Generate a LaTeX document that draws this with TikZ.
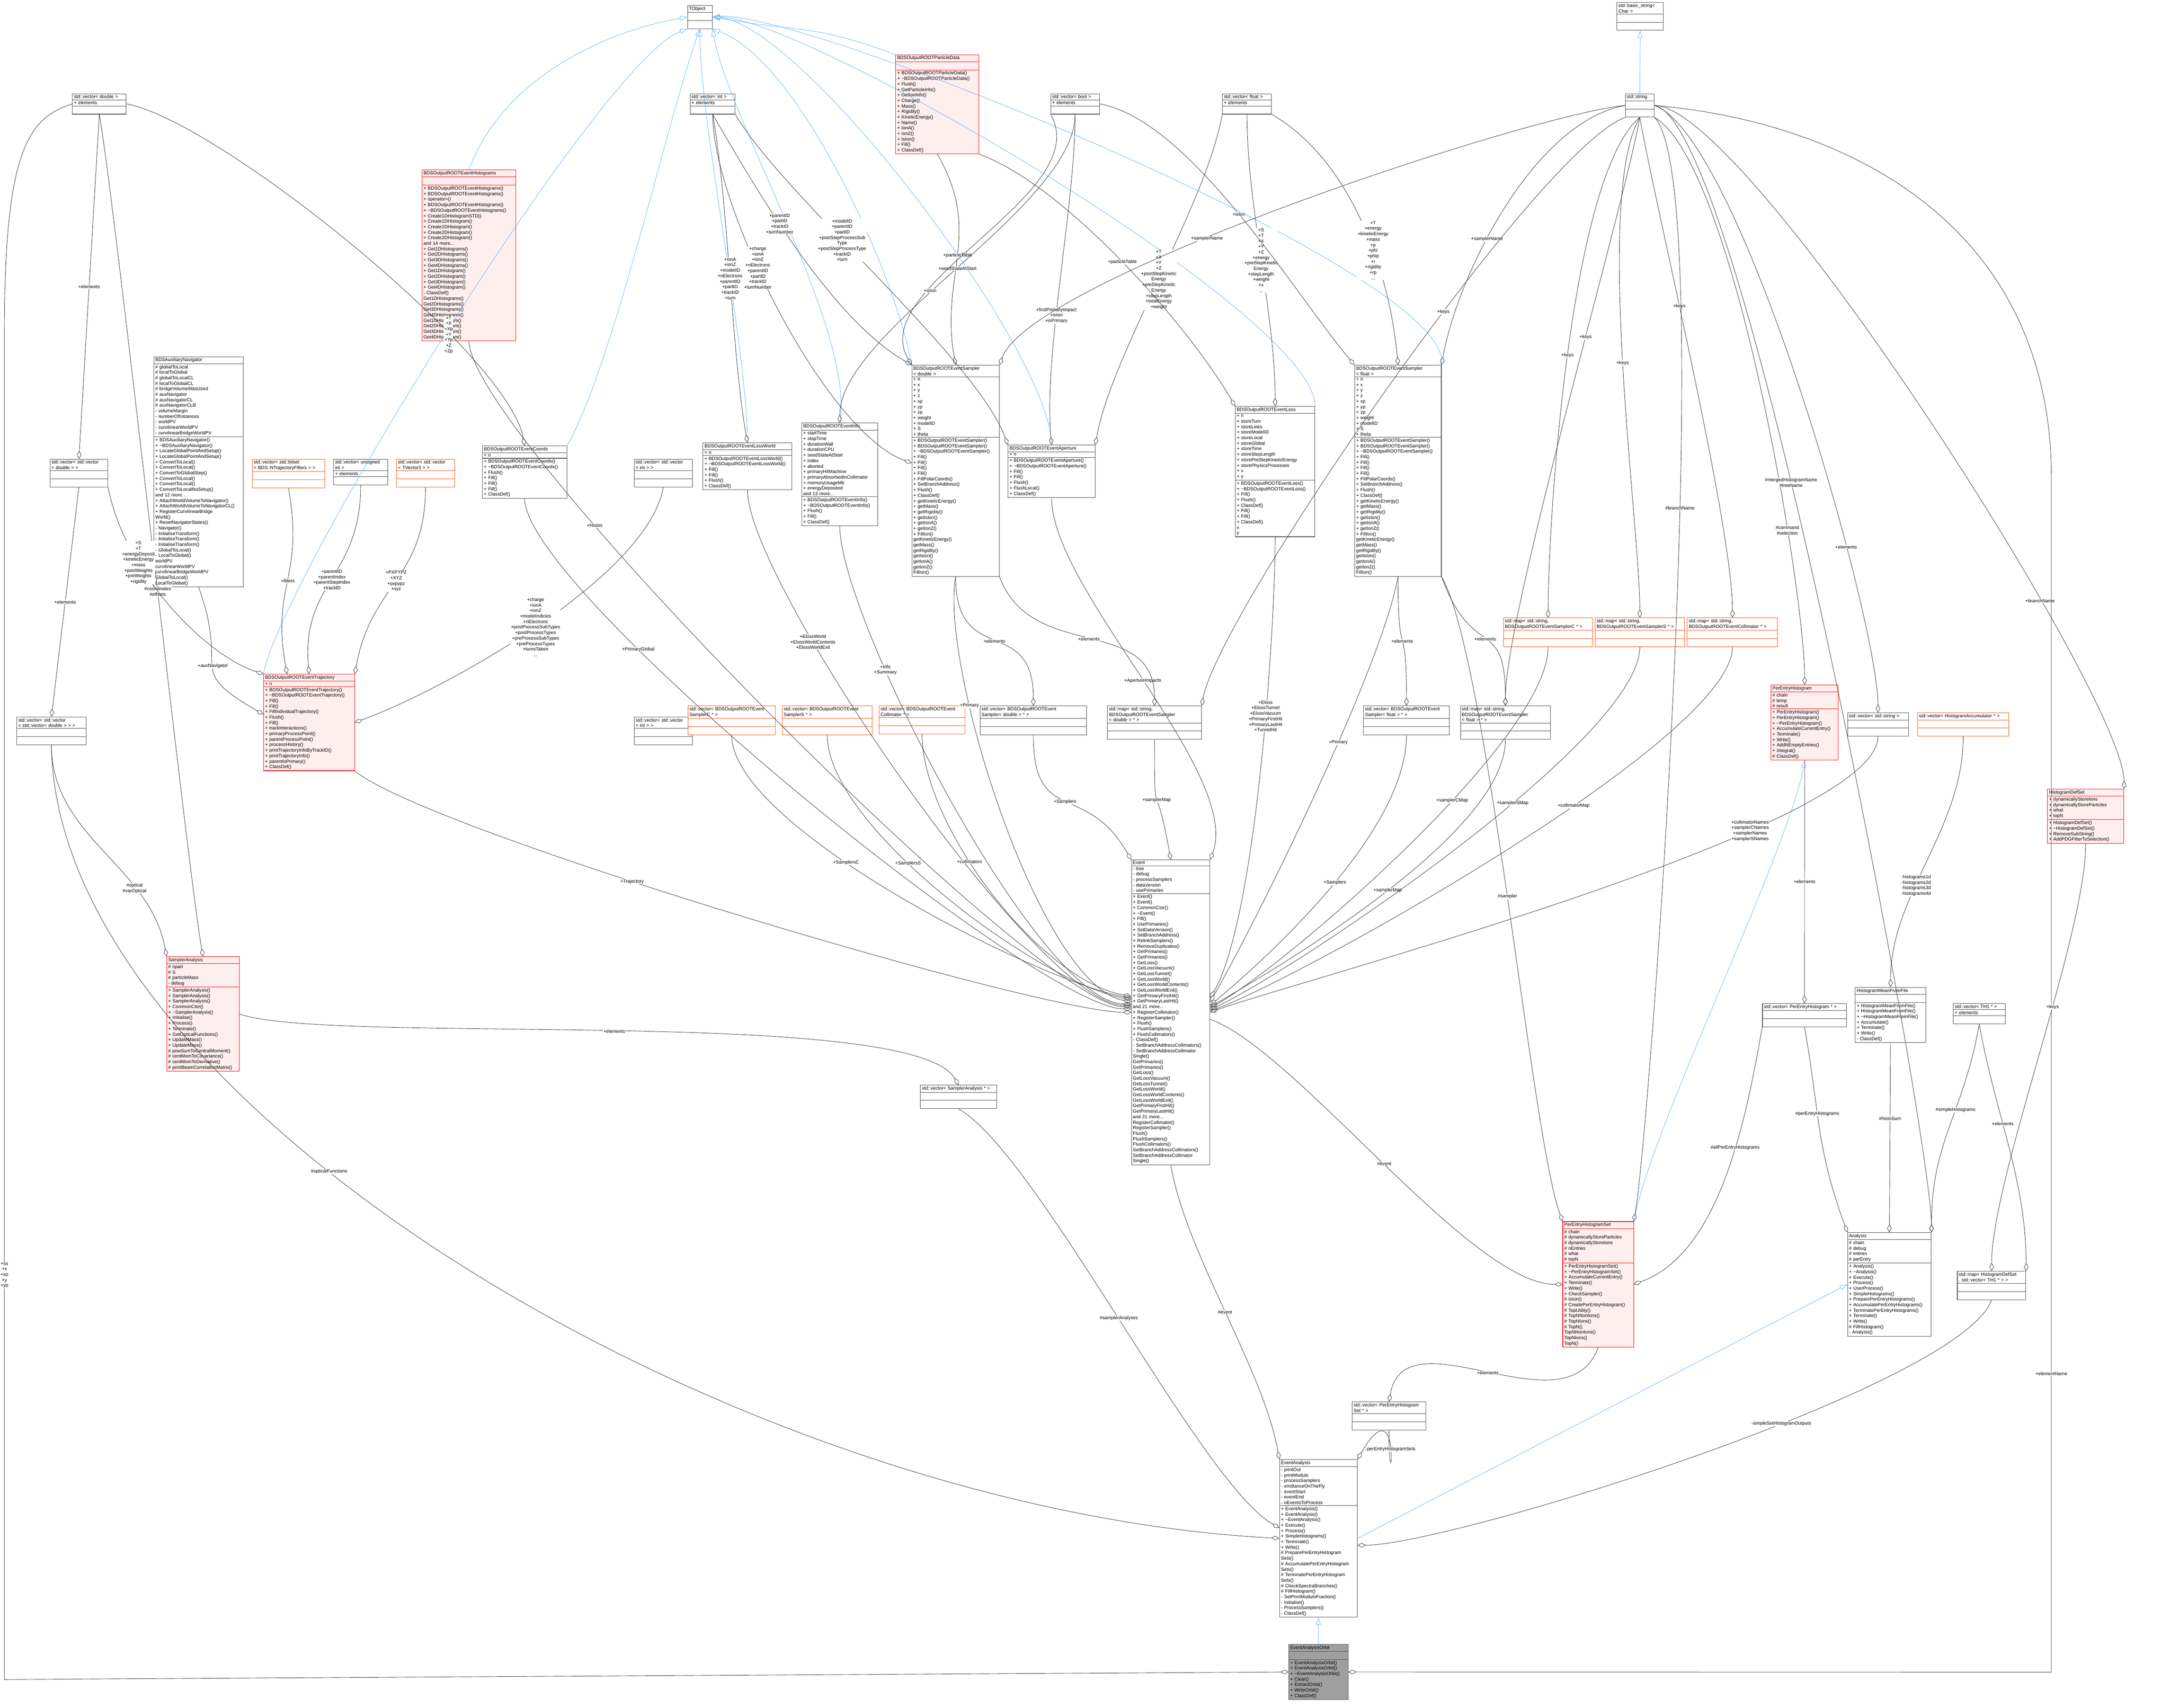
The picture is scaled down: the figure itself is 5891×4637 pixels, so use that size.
\documentclass[tikz,border=0pt]{standalone}
\usepackage{fontspec}
\setmainfont{Liberation Sans}
\usetikzlibrary{shapes.multipart,arrows.meta}
\newcommand\fs{\fontsize{3.6}{4.25}\selectfont}
\definecolor{inhblue}{RGB}{99,178,255}
\definecolor{hlred}{RGB}{255,0,0}
\definecolor{hlfill}{RGB}{255,238,238}
\definecolor{extor}{RGB}{255,80,20}
\tikzset{
  cls/.style={rectangle split, rectangle split parts=3, draw=gray!60!black, fill=white,
    font=\fs, inner xsep=0.04cm, inner ysep=0.03cm, anchor=north west,
    rectangle split part align={center,left,left}, line width=0.35pt},
  hl/.style={cls, draw=hlred, fill=hlfill},
  ext/.style={cls, draw=extor},
  cur/.style={cls, fill=gray!75},
  agg/.style={draw=black!80, line width=0.3pt, {Diamond[open,length=0.22cm,width=0.12cm]}-},
  inh/.style={draw=inhblue, line width=0.3pt, {Triangle[open,length=0.2cm,width=0.13cm]}-},
  lbl/.style={font=\fs, align=center, fill=white, inner sep=0.3pt},
  every to/.append style={distance=2.5cm}
}
\begin{document}
\begin{tikzpicture}[x=0.01cm,y=-0.01cm]
\useasboundingbox (0,0) rectangle (5891,4637);
% top row
\node[cls, text width=0.59cm] (tobject) at (1866,14) {TObject\nodepart{two}\strut\nodepart{three}\strut};
\node[cls, text width=1.18cm] (bstring) at (4389,6) {std::basic\_string<\\Char >\nodepart{two}\strut\nodepart{three}\strut};
\node[cls, text width=0.70cm] (string) at (4412,254) {std::string\nodepart{two}\strut\nodepart{three}\strut};
\node[cls, text width=1.38cm] (vecd) at (196,254) {std::vector< double >\nodepart{two}+ elements\nodepart{three}\strut};
\node[cls, text width=1.14cm] (veci) at (1873,254) {std::vector< int >\nodepart{two}+ elements\nodepart{three}\strut};
\node[cls, text width=1.24cm] (vecb) at (2852,254) {std::vector< bool >\nodepart{two}+ elements\nodepart{three}\strut};
\node[cls, text width=1.25cm] (vecf) at (3318,254) {std::vector< float >\nodepart{two}+ elements\nodepart{three}\strut};
\node[hl, text width=2.18cm] (pdata) at (2431,148) {BDSOutputROOTParticleData\nodepart{two}\strut\nodepart{three}+ BDSOutputROOTParticleData()\\+ \textasciitilde BDSOutputROOTParticleData()\\+ Flush()\\+ GetParticleInfo()\\+ GetIonInfo()\\+ Charge()\\+ Mass()\\+ Rigidity()\\+ KineticEnergy()\\+ Name()\\+ IonA()\\+ IonZ()\\+ IsIon()\\+ Fill()\\+ ClassDef()};
\node[hl, text width=2.47cm] (histos) at (1145,461) {BDSOutputROOTEventHistograms\nodepart{two}\strut\nodepart{three}+ BDSOutputROOTEventHistograms()\\+ BDSOutputROOTEventHistograms()\\+ operator=()\\+ BDSOutputROOTEventHistograms()\\+ \textasciitilde BDSOutputROOTEventHistograms()\\+ Create1DHistogramSTD()\\+ Create1DHistogram()\\+ Create1DHistogram()\\+ Create2DHistogram()\\+ Create2DHistogram()\\and 14 more...\\+ Get1DHistograms()\\+ Get2DHistograms()\\+ Get3DHistograms()\\+ Get4DHistograms()\\+ Get1DHistogram()\\+ Get2DHistogram()\\+ Get3DHistogram()\\+ Get4DHistogram()\\- ClassDef()\\* Get1DHistograms()\\* Get2DHistograms()\\* Get3DHistograms()\\* Get4DHistograms()\\* Get1DHistogram()\\* Get2DHistogram()\\* Get3DHistogram()\\* Get4DHistogram()};
% second row
\node[cls, text width=2.35cm] (auxnav) at (417,968) {BDSAuxiliaryNavigator\nodepart{two}\# globalToLocal\\\# localToGlobal\\\# globalToLocalCL\\\# localToGlobalCL\\\# bridgeVolumeWasUsed\\\# auxNavigator\\\# auxNavigatorCL\\\# auxNavigatorCLB\\- volumeMargin\\- numberOfInstances\\- worldPV\\- curvilinearWorldPV\\- curvilinearBridgeWorldPV\nodepart{three}+ BDSAuxiliaryNavigator()\\+ \textasciitilde BDSAuxiliaryNavigator()\\+ LocateGlobalPointAndSetup()\\+ LocateGlobalPointAndSetup()\\+ ConvertToLocal()\\+ ConvertToLocal()\\+ ConvertToGlobalStep()\\+ ConvertToLocal()\\+ ConvertToLocal()\\+ ConvertToLocalNoSetup()\\and 12 more...\\+ AttachWorldVolumeToNavigator()\\+ AttachWorldVolumeToNavigatorCL()\\+ RegisterCurvilinearBridge\\World()\\+ ResetNavigatorStates()\\- Navigator()\\- InitialiseTransform()\\- InitialiseTransform()\\- InitialiseTransform()\\- GlobalToLocal()\\- LocalToGlobal()\\* worldPV\\* curvilinearWorldPV\\* curvilinearBridgeWorldPV\\* GlobalToLocal()\\* LocalToGlobal()};
\node[cls, text width=1.49cm] (vecvd) at (135,1246) {std::vector< std::vector\\< double > >\nodepart{two}\strut\nodepart{three}\strut};
\node[ext, text width=1.89cm] (vecbits) at (684,1246) {std::vector< std::bitset\\< BDS::NTrajectoryFilters > >\nodepart{two}\strut\nodepart{three}\strut};
\node[cls, text width=1.39cm] (vecui) at (905,1246) {std::vector< unsigned\\int >\nodepart{two}+ elements\nodepart{three}\strut};
\node[ext, text width=1.49cm] (vectv) at (1076,1246) {std::vector< std::vector\\< TVector3 > >\nodepart{two}\strut\nodepart{three}\strut};
\node[cls, text width=2.21cm] (coords) at (1309,1210) {BDSOutputROOTEventCoords\nodepart{two}+ n\nodepart{three}+ BDSOutputROOTEventCoords()\\+ \textasciitilde BDSOutputROOTEventCoords()\\+ Flush()\\+ Fill()\\+ Fill()\\+ Fill()\\+ ClassDef()};
\node[cls, text width=1.50cm] (vecvi) at (1721,1246) {std::vector< std::vector\\< int > >\nodepart{two}\strut\nodepart{three}\strut};
\node[cls, text width=2.33cm] (lossworld) at (1908,1202) {BDSOutputROOTEventLossWorld\nodepart{two}+ n\nodepart{three}+ BDSOutputROOTEventLossWorld()\\+ \textasciitilde BDSOutputROOTEventLossWorld()\\+ Fill()\\+ Fill()\\+ Flush()\\+ ClassDef()};
\node[cls, text width=1.98cm] (info) at (2176,1148) {BDSOutputROOTEventInfo\nodepart{two}+ startTime\\+ stopTime\\+ durationWall\\+ durationCPU\\+ seedStateAtStart\\+ index\\+ aborted\\+ primaryHitMachine\\+ primaryAbsorbedInCollimator\\+ memoryUsageMb\\+ energyDeposited\\and 13 more...\nodepart{three}+ BDSOutputROOTEventInfo()\\+ \textasciitilde BDSOutputROOTEventInfo()\\+ Flush()\\+ Fill()\\+ ClassDef()};
\node[cls, text width=2.29cm] (sampd) at (2475,991) {BDSOutputROOTEventSampler\\< double >\nodepart{two}+ n\\+ x\\+ y\\+ z\\+ xp\\+ yp\\+ zp\\+ weight\\+ modelID\\+ S\\+ theta\nodepart{three}+ BDSOutputROOTEventSampler()\\+ BDSOutputROOTEventSampler()\\+ \textasciitilde BDSOutputROOTEventSampler()\\+ Fill()\\+ Fill()\\+ Fill()\\+ Fill()\\+ FillPolarCoords()\\+ SetBranchAddress()\\+ Flush()\\+ ClassDef()\\+ getKineticEnergy()\\+ getMass()\\+ getRigidity()\\+ getIsIon()\\+ getIonA()\\+ getIonZ()\\+ FillIon()\\* getKineticEnergy()\\* getMass()\\* getRigidity()\\* getIsIon()\\* getIonA()\\* getIonZ()\\* FillIon()};
\node[cls, text width=2.28cm] (aper) at (2736,1208) {BDSOutputROOTEventAperture\nodepart{two}+ n\nodepart{three}+ BDSOutputROOTEventAperture()\\+ \textasciitilde BDSOutputROOTEventAperture()\\+ Fill()\\+ Fill()\\+ Flush()\\+ FlushLocal()\\+ ClassDef()};
\node[cls, text width=2.08cm] (loss) at (3353,1103) {BDSOutputROOTEventLoss\nodepart{two}+ n\\+ storeTurn\\+ storeLinks\\+ storeModelID\\+ storeLocal\\+ storeGlobal\\+ storeTime\\+ storeStepLength\\+ storePreStepKineticEnergy\\+ storePhysicsProcesses\\+ x\\+ y\nodepart{three}+ BDSOutputROOTEventLoss()\\+ \textasciitilde BDSOutputROOTEventLoss()\\+ Fill()\\+ Flush()\\+ ClassDef()\\+ Fill()\\+ Fill()\\+ ClassDef()\\* x\\* y};
\node[cls, text width=2.27cm] (sampf) at (3677,991) {BDSOutputROOTEventSampler\\< float >\nodepart{two}+ n\\+ x\\+ y\\+ z\\+ xp\\+ yp\\+ zp\\+ weight\\+ modelID\\+ S\\+ theta\nodepart{three}+ BDSOutputROOTEventSampler()\\+ BDSOutputROOTEventSampler()\\+ \textasciitilde BDSOutputROOTEventSampler()\\+ Fill()\\+ Fill()\\+ Fill()\\+ Fill()\\+ FillPolarCoords()\\+ SetBranchAddress()\\+ Flush()\\+ ClassDef()\\+ getKineticEnergy()\\+ getMass()\\+ getRigidity()\\+ getIsIon()\\+ getIonA()\\+ getIonZ()\\+ FillIon()\\* getKineticEnergy()\\* getMass()\\* getRigidity()\\* getIsIon()\\* getIonA()\\* getIonZ()\\* FillIon()};
% third row
\node[hl, text width=2.39cm] (traj) at (715,1830) {BDSOutputROOTEventTrajectory\nodepart{two}+ n\nodepart{three}+ BDSOutputROOTEventTrajectory()\\+ \textasciitilde BDSOutputROOTEventTrajectory()\\+ Fill()\\+ Fill()\\+ FillIndividualTrajectory()\\+ Flush()\\+ Fill()\\+ trackInteractions()\\+ primaryProcessPoint()\\+ parentProcessPoint()\\+ processHistory()\\+ printTrajectoryInfoByTrackID()\\+ printTrajectoryInfo()\\+ parentIsPrimary()\\+ ClassDef()};
\node[cls, text width=1.80cm] (vecvvd) at (45,1946) {std::vector< std::vector\\< std::vector< double > > >\nodepart{two}\strut\nodepart{three}\strut};
\node[cls, text width=1.50cm] (vecvvi) at (1721,1946) {std::vector< std::vector\\< int > >\nodepart{two}\strut\nodepart{three}\strut};
\node[ext, text width=2.29cm] (vecsc) at (1867,1916) {std::vector< BDSOutputROOTEvent\\SamplerC * >\nodepart{two}\strut\nodepart{three}\strut};
\node[ext, text width=2.36cm] (vecss) at (2123,1916) {std::vector< BDSOutputROOTEvent\\SamplerS * >\nodepart{two}\strut\nodepart{three}\strut};
\node[ext, text width=2.25cm] (veccol) at (2386,1916) {std::vector< BDSOutputROOTEvent\\Collimator * >\nodepart{two}\strut\nodepart{three}\strut};
\node[cls, text width=2.81cm] (vecsd) at (2660,1916) {std::vector< BDSOutputROOTEvent\\Sampler< double > * >\nodepart{two}\strut\nodepart{three}\strut};
\node[cls, text width=2.47cm] (mapsd) at (3006,1916) {std::map< std::string,\\BDSOutputROOTEventSampler\\< double > * >\nodepart{two}\strut\nodepart{three}\strut};
\node[cls, text width=2.25cm] (vecsf) at (3701,1916) {std::vector< BDSOutputROOTEvent\\Sampler< float > * >\nodepart{two}\strut\nodepart{three}\strut};
\node[cls, text width=2.36cm] (mapsf) at (3964,1916) {std::map< std::string,\\BDSOutputROOTEventSampler\\< float > * >\nodepart{two}\strut\nodepart{three}\strut};
\node[ext, text width=2.34cm] (mapsc) at (4081,1677) {std::map< std::string,\\BDSOutputROOTEventSamplerC * >\nodepart{two}\strut\nodepart{three}\strut};
\node[ext, text width=2.34cm] (mapss) at (4330,1677) {std::map< std::string,\\BDSOutputROOTEventSamplerS * >\nodepart{two}\strut\nodepart{three}\strut};
\node[ext, text width=2.37cm] (mapcol) at (4580,1677) {std::map< std::string,\\BDSOutputROOTEventCollimator * >\nodepart{two}\strut\nodepart{three}\strut};
\node[hl, text width=1.75cm] (peh) at (4807,1859) {PerEntryHistogram\nodepart{two}\# chain\\\# temp\\\# result\nodepart{three}+ PerEntryHistogram()\\+ PerEntryHistogram()\\+ \textasciitilde PerEntryHistogram()\\+ AccumulateCurrentEntry()\\+ Terminate()\\+ Write()\\+ AddNEmptyEntries()\\+ Integral()\\\# ClassDef()};
\node[cls, text width=1.57cm] (vecstr) at (5015,1935) {std::vector< std::string >\nodepart{two}\strut\nodepart{three}\strut};
\node[ext, text width=2.40cm] (vecacc) at (5205,1935) {std::vector< HistogramAccumulator * >\nodepart{two}\strut\nodepart{three}\strut};
\node[hl, text width=1.99cm] (defset) at (5558,2142) {HistogramDefSet\nodepart{two}+ dynamicallyStoreIons\\+ dynamicallyStoreParticles\\+ what\\+ topN\nodepart{three}+ HistogramDefSet()\\+ \textasciitilde HistogramDefSet()\\+ RemoveSubString()\\+ AddPDGFilterToSelection()};
\node[cls, text width=2.20cm] (vecpeh) at (4784,2724) {std::vector< PerEntryHistogram * >\nodepart{two}\strut\nodepart{three}\strut};
\node[cls, text width=1.83cm] (hmff) at (5036,2680) {HistogramMeanFromFile\nodepart{two}\strut\nodepart{three}+ HistogramMeanFromFile()\\+ HistogramMeanFromFile()\\+ \textasciitilde HistogramMeanFromFile()\\+ Accumulate()\\+ Terminate()\\+ Write()\\- ClassDef()};
\node[cls, text width=1.33cm] (vecth) at (5302,2724) {std::vector< TH1 * >\nodepart{two}+ elements\nodepart{three}\strut};
% lower part
\node[hl, text width=1.89cm] (sana) at (452,2597) {SamplerAnalysis\nodepart{two}\# npart\\\# S\\\# particleMass\\- debug\nodepart{three}+ SamplerAnalysis()\\+ SamplerAnalysis()\\+ SamplerAnalysis()\\+ CommonCtor()\\+ \textasciitilde SamplerAnalysis()\\+ Initialise()\\+ Process()\\+ Terminate()\\+ GetOpticalFunctions()\\+ UpdateMass()\\+ UpdateMass()\\\# powSumToCentralMoment()\\\# centMomToCovariance()\\\# centMomToDerivative()\\\# printBeamCorrelationMatrix()};
\node[cls, text width=2.05cm] (event) at (3071,2334) {Event\nodepart{two}- tree\\- debug\\- processSamplers\\- dataVersion\\- usePrimaries\nodepart{three}+ Event()\\+ Event()\\+ CommonCtor()\\+ \textasciitilde Event()\\+ Fill()\\+ UsePrimaries()\\+ SetDataVersion()\\+ SetBranchAddress()\\+ RelinkSamplers()\\+ RemoveDuplicates()\\+ GetPrimaries()\\+ GetPrimaries()\\+ GetLoss()\\+ GetLossVacuum()\\+ GetLossTunnel()\\+ GetLossWorld()\\+ GetLossWorldContents()\\+ GetLossWorldExit()\\+ GetPrimaryFirstHit()\\+ GetPrimaryLastHit()\\and 21 more...\\+ RegisterCollimator()\\+ RegisterSampler()\\+ Flush()\\+ FlushSamplers()\\+ FlushCollimators()\\- ClassDef()\\- SetBranchAddressCollimators()\\- SetBranchAddressCollimator\\Single()\\* GetPrimaries()\\* GetPrimaries()\\* GetLoss()\\* GetLossVacuum()\\* GetLossTunnel()\\* GetLossWorld()\\* GetLossWorldContents()\\* GetLossWorldExit()\\* GetPrimaryFirstHit()\\* GetPrimaryLastHit()\\and 21 more...\\* RegisterCollimator()\\* RegisterSampler()\\* Flush()\\* FlushSamplers()\\* FlushCollimators()\\* SetBranchAddressCollimators()\\* SetBranchAddressCollimator\\Single()};
\node[hl, text width=1.84cm] (pehset) at (4242,3316) {PerEntryHistogramSet\nodepart{two}\# chain\\\# dynamicallyStoreParticles\\\# dynamicallyStoreIons\\\# nEntries\\\# what\\\# topN\nodepart{three}+ PerEntryHistogramSet()\\+ \textasciitilde PerEntryHistogramSet()\\+ AccumulateCurrentEntry()\\+ Terminate()\\+ Write()\\+ CheckSampler()\\\# IsIon()\\\# CreatePerEntryHistogram()\\\# TopUtility()\\\# TopNNonIons()\\\# TopNIons()\\\# TopN()\\* TopNNonIons()\\* TopNIons()\\* TopN()};
\node[cls, text width=2.19cm] (analysis) at (5015,3346) {Analysis\nodepart{two}\# chain\\\# debug\\\# entries\\\# perEntry\nodepart{three}+ Analysis()\\+ \textasciitilde Analysis()\\+ Execute()\\+ Process()\\+ UserProcess()\\+ SimpleHistograms()\\+ PreparePerEntryHistograms()\\+ AccumulatePerEntryHistograms()\\+ TerminatePerEntryHistograms()\\+ Terminate()\\+ Write()\\\# FillHistogram()\\- Analysis()};
\node[cls, text width=1.78cm] (mapdef) at (5313,3451) {std::map< HistogramDefSet\\*, std::vector< TH1 * > >\nodepart{two}\strut\nodepart{three}\strut};
\node[cls, text width=1.99cm] (vecsa) at (2498,2946) {std::vector< SamplerAnalysis * >\nodepart{two}\strut\nodepart{three}\strut};
\node[cls, text width=1.92cm] (vecpehs) at (3670,3806) {std::vector< PerEntryHistogram\\Set * >\nodepart{two}\strut\nodepart{three}\strut};
\node[cls, text width=2.03cm] (evana) at (3473,3962) {EventAnalysis\nodepart{two}- printOut\\- printModulo\\- processSamplers\\- emittanceOnTheFly\\- eventStart\\- eventEnd\\- nEventsToProcess\nodepart{three}+ EventAnalysis()\\+ EventAnalysis()\\+ \textasciitilde EventAnalysis()\\+ Execute()\\+ Process()\\+ SimpleHistograms()\\+ Terminate()\\+ Write()\\\# PreparePerEntryHistogram\\Sets()\\\# AccumulatePerEntryHistogram\\Sets()\\\# TerminatePerEntryHistogram\\Sets()\\\# CheckSpectraBranches()\\\# FillHistogram()\\- SetPrintModuloFraction()\\- Initialise()\\- ProcessSamplers()\\- ClassDef()};
\node[cur, text width=1.53cm] (orbit) at (3498,4464) {EventAnalysisOrbit\nodepart{two}\strut\nodepart{three}+ EventAnalysisOrbit()\\+ EventAnalysisOrbit()\\+ \textasciitilde EventAnalysisOrbit()\\+ Clear()\\+ ExtractOrbit()\\+ WriteOrbit()\\+ ClassDef()};
\coordinate (orbr) at (5569,4540);
\coordinate (orbl) at (12,4560);
% inheritance
\draw[inh] (bstring.south) -- (string.north);
\draw[inh] (tobject.south west) to[out=200,in=80] (traj.north west);
\draw[inh] (tobject.west) to[out=190,in=70] (histos.north);
\draw[inh] (tobject.south) to[out=250,in=60] (coords.north east);
\draw[inh] (tobject.south) to[out=270,in=90] (lossworld.north);
\draw[inh] (tobject.south east) to[out=280,in=80] (info.north);
\draw[inh] (tobject.south east) to[out=-20,in=100] (sampd.north west);
\draw[inh] (tobject.east) to[out=-10,in=160] (pdata.north west);
\draw[inh] (tobject.east) to[out=-5,in=90] (aper.north);
\draw[inh] (tobject.east) to[out=0,in=90] (loss.north east);
\draw[inh] (tobject.east) to[out=5,in=80] (sampf.north east);
\draw[inh] (peh.south) to[out=260,in=80] (pehset.north east);
\draw[inh] (analysis.west) -- (evana.east);
\draw[inh] (evana.south) -- (orbit.north);
% aggregation from basic types
\draw[agg] (vecvd.north) -- node[lbl]{+elements} (vecd.south);
\draw[agg] (vecvvd.north) -- node[lbl]{+elements} (vecvd.south);
\draw[agg] (coords.north) to[out=100,in=-10] node[lbl,pos=0.3]{+T\\+X\\+Xp\\+Y\\+Yp\\+Z\\+Zp} (vecd.east);
\draw[agg] (sana.north) to[out=100,in=-80] node[lbl,pos=0.45]{\#coordinates\\\#offsets} (vecd.south);
\draw[agg] (sana.north west) to[out=100,in=-90] node[lbl,pos=0.3]{\#optical\\\#varOptical} (vecvvd.south);
\draw[agg] (traj.north west) .. controls (560,1780) and (340,1560) .. node[lbl,pos=0.7]{+S\\+T\\+energyDeposit\\+kineticEnergy\\+mass\\+postWeights\\+preWeights\\+rigidity} (vecvd.south east);
\draw[agg] (traj.170) to[out=150,in=-70] node[lbl,pos=0.5]{+auxNavigator} (auxnav.south);
\draw[agg] (traj.north) ++(-60,0) to[out=100,in=-80] node[lbl]{+filters} (vecbits.south);
\draw[agg] (traj.north) to[out=95,in=-90] node[lbl]{+parentID\\+parentIndex\\+parentStepIndex\\+trackID} (vecui.south);
\draw[agg] (traj.north east) to[out=80,in=-90] node[lbl]{+PXPYPZ\\+XYZ\\+pxpypz\\+xyz} (vectv.south);
\draw[agg] (traj.east) to[out=20,in=-100] node[lbl,pos=0.5]{+charge\\+ionA\\+ionZ\\+modelIndicies\\+nElectrons\\+postProcessSubTypes\\+postProcessTypes\\+preProcessSubTypes\\+preProcessTypes\\+turnsTaken\\...} (vecvi.south);
\draw[agg] (sampd.north west) to[out=150,in=-60] node[lbl,pos=0.6]{+parentID\\+partID\\+trackID\\+turnNumber} (veci.south);
\draw[agg] (sampd.170) to[out=160,in=-90] node[lbl,pos=0.6]{+charge\\+ionA\\+ionZ\\+nElectrons\\+parentID\\+partID\\+trackID\\+turnNumber} (veci.south);
\draw[agg] (sampd.north) to[out=100,in=-60] node[lbl,pos=0.5]{+particleTable} (pdata.south);
\draw[agg] (lossworld.north) to[out=100,in=-80] node[lbl,pos=0.5]{+ionA\\+ionZ\\+modelID\\+nElectrons\\+parentID\\+partID\\+trackID\\+turn} (veci.south);
\draw[agg] (info.north) to[out=90,in=-90] node[lbl,pos=0.5]{+seedStateAtStart} (vecb.south);
\draw[agg] (aper.north) to[out=95,in=-90] node[lbl,pos=0.4]{+firstPrimaryImpact\\+isIon\\+isPrimary} (vecb.south);
\draw[agg] (aper.north west) to[out=110,in=-60] node[lbl,pos=0.6]{+modelID\\+parentID\\+partID\\+postStepProcessSub\\Type\\+postStepProcessType\\+trackID\\+turn} (veci.south east);
\draw[agg] (aper.north east) to[out=80,in=-100] node[lbl,pos=0.5]{+T\\+X\\+Y\\+Z\\+postStepKinetic\\Energy\\+preStepKinetic\\Energy\\+stepLength\\+totalEnergy\\+weight} (vecf.south west);
\draw[agg] (loss.north) to[out=90,in=-90] node[lbl,pos=0.5]{+S\\+T\\+X\\+Y\\+Z\\+energy\\+preStepKinetic\\Energy\\+stepLength\\+weight\\+x\\...} (vecf.south);
\draw[agg] (loss.north west) to[out=120,in=-20] node[lbl,pos=0.5]{+particleTable} (pdata.south east);
\draw[agg] (sampf.north) to[out=95,in=-30] node[lbl,pos=0.4]{+T\\+energy\\+kineticEnergy\\+mass\\+p\\+phi\\+phip\\+r\\+rigidity\\+rp\\...} (vecf.south east);
\draw[agg] (sampf.north west) to[out=130,in=-10] node[lbl,pos=0.5]{+isIon} (vecb.east);
\draw[agg] (sampf.north east) to[out=80,in=190] node[lbl,pos=0.4]{+samplerName} (string.west);
\draw[agg] (sampd.north east) to[out=70,in=185] node[lbl,pos=0.4]{+samplerName} (string.west);
\draw[agg] (sampd.north west) to[out=120,in=-60] node[lbl,pos=0.3]{+isIon} (vecb.south west);
% string users
\draw[agg] (mapsc.north) to[out=90,in=220] node[lbl,pos=0.5]{+keys} (string.south);
\draw[agg] (mapss.north) to[out=90,in=240] node[lbl,pos=0.5]{+keys} (string.south);
\draw[agg] (mapsd.north east) to[out=80,in=200] node[lbl,pos=0.6]{+keys} (string.south west);
\draw[agg] (mapsf.north) to[out=90,in=260] node[lbl,pos=0.6]{+keys} (string.south);
\draw[agg] (mapcol.north) to[out=90,in=-80] node[lbl,pos=0.6]{+keys} (string.south);
\draw[agg] (peh.north) to[out=90,in=-30] node[lbl,pos=0.3]{\#command\\\#selection} (string.south east);
\draw[agg] (vecstr.north) to[out=90,in=-20] node[lbl,pos=0.3]{+elements} (string.east);
\draw[agg] (analysis.north east) to[out=90,in=-10] node[lbl,pos=0.6]{\#mergedHistogramName\\\#treeName} (string.east);
\draw[agg] (defset.north east) to[out=90,in=0] node[lbl,pos=0.3]{+branchName} (string.east);
\draw[agg] (pehset.north east) to[out=80,in=-45] node[lbl,pos=0.6]{\#branchName} (string.south east);
\draw[agg] (orbit.east) -- (orbr) -- node[lbl,pos=0.25]{+elementName} (5569,1300) .. controls (5569,600) and (5000,330) .. (string.east);
\draw[agg] (orbit.west) -- (orbl) -- node[lbl,pos=0.3]{+ss\\+x\\+xp\\+y\\+yp} (12,900) .. controls (12,400) and (80,320) .. (vecd.west);
% into event
\draw[agg] (event.west) to[out=180,in=-40] node[lbl,pos=0.6]{+Trajectory} (traj.south east);
\draw[agg] (event.175) to[out=180,in=-90] node[lbl,pos=0.7]{+PrimaryGlobal} (coords.south);
\draw[agg] (event.172) to[out=180,in=-90] node[lbl,pos=0.7]{+Histos} (histos.south);
\draw[agg] (event.170) to[out=180,in=-90] node[lbl,pos=0.7]{+ElossWorld\\+ElossWorldContents\\+ElossWorldExit} (lossworld.south);
\draw[agg] (event.168) to[out=180,in=-90] node[lbl,pos=0.7]{+Info\\+Summary} (info.south);
\draw[agg] (event.165) to[out=170,in=-100] node[lbl,pos=0.7]{+Primary} (sampd.south);
\draw[agg] (event.north west) to[out=120,in=-90] node[lbl,pos=0.5]{+Samplers} (vecsd.south);
\draw[agg] (event.north) to[out=100,in=-90] node[lbl,pos=0.5]{+samplerMap} (mapsd.south);
\draw[agg] (event.160) to[out=170,in=-90] node[lbl,pos=0.6]{+SamplersC} (vecsc.south);
\draw[agg] (event.162) to[out=170,in=-90] node[lbl,pos=0.6]{+SamplersS} (vecss.south);
\draw[agg] (event.158) to[out=170,in=-90] node[lbl,pos=0.6]{+collimators} (veccol.south);
\draw[agg] (event.north east) to[out=70,in=-90] node[lbl,pos=0.5]{+ApertureImpacts} (aper.south);
\draw[agg] (event.20) to[out=60,in=-90] node[lbl,pos=0.6]{+Eloss\\+ElossTunnel\\+ElossVacuum\\+PrimaryFirstHit\\+PrimaryLastHit\\+TunnelHit} (loss.south);
\draw[agg] (event.15) to[out=60,in=-100] node[lbl,pos=0.6]{+Primary} (sampf.south);
\draw[agg] (event.10) to[out=40,in=-90] node[lbl,pos=0.5]{+Samplers} (vecsf.south);
\draw[agg] (event.8) to[out=30,in=-90] node[lbl,pos=0.5]{+samplerMap} (mapsf.south);
\draw[agg] (event.6) to[out=30,in=-90] node[lbl,pos=0.6]{+samplerCMap} (mapsc.south);
\draw[agg] (event.4) to[out=25,in=-90] node[lbl,pos=0.6]{+samplerSMap} (mapss.south);
\draw[agg] (event.2) to[out=20,in=-90] node[lbl,pos=0.6]{+collimatorMap} (mapcol.south);
\draw[agg] (event.0) to[out=20,in=-90] node[lbl,pos=0.7]{+collimatorNames\\+samplerCNames\\+samplerNames\\+samplerSNames} (vecstr.south);
\draw[agg] (vecsd.north) to[out=90,in=-90] node[lbl,pos=0.5]{+elements} (sampd.south);
\draw[agg] (mapsd.north) to[out=90,in=-70] node[lbl,pos=0.5]{+elements} (sampd.south east);
\draw[agg] (vecsf.north) to[out=90,in=-90] node[lbl,pos=0.5]{+elements} (sampf.south);
\draw[agg] (mapsf.north) to[out=90,in=-70] node[lbl,pos=0.5]{+elements} (sampf.south east);
% analysis side
\draw[agg] (pehset.north west) to[out=110,in=-60] node[lbl,pos=0.5]{\#sampler} (sampf.south east);
\draw[agg] (pehset.west) to[out=180,in=-20] node[lbl,pos=0.5]{\#event} (event.-10);
\draw[agg] (vecpeh.north) -- node[lbl]{+elements} (peh.south);
\draw[agg] (hmff.north) to[out=90,in=-90] node[lbl,pos=0.4]{-histograms1d\\-histograms2d\\-histograms3d\\-histograms4d} (vecacc.south);
\draw[agg] (mapdef.north) to[out=90,in=-90] node[lbl,pos=0.6]{+keys} (defset.south);
\draw[agg] (mapdef.north east) to[out=90,in=-80] node[lbl,pos=0.6]{+elements} (vecth.south);
\draw[agg] (analysis.north west) to[out=110,in=-80] node[lbl,pos=0.6]{\#perEntryHistograms} (vecpeh.south);
\draw[agg] (analysis.north) -- node[lbl,pos=0.6]{\#histoSum} (hmff.south);
\draw[agg] (analysis.north east) to[out=90,in=-100] node[lbl,pos=0.6]{\#simpleHistograms} (vecth.south);
\draw[agg] (pehset.east) to[out=20,in=-100] node[lbl,pos=0.6]{\#allPerEntryHistograms} (vecpeh.south west);
\draw[agg] (vecsa.north) to[out=120,in=-20] node[lbl,pos=0.5]{+elements} (sana.east);
\draw[agg] (vecpehs.north) to[out=80,in=-110] node[lbl,pos=0.5]{+elements} (pehset.south);
\draw[agg] (evana.north west) to[out=100,in=-80] node[lbl,pos=0.5]{\#event} (event.south);
\draw[agg] (evana.165) to[out=150,in=-30] node[lbl,pos=0.5]{\#samplerAnalyses} (vecsa.south);
\draw[agg] (evana.north east) to[out=60,in=-90] node[lbl,pos=0.5]{-perEntryHistogramSets} (vecpehs.south);
\draw[agg] (evana.-10) to[out=0,in=-110] node[lbl,pos=0.6]{-simpleSetHistogramOutputs} (mapdef.south);
\draw[agg] (evana.west) .. controls (2000,4100) and (150,3000) .. node[lbl,pos=0.6]{\#opticalFunctions} (vecvvd.south);
\end{tikzpicture}
\end{document}
